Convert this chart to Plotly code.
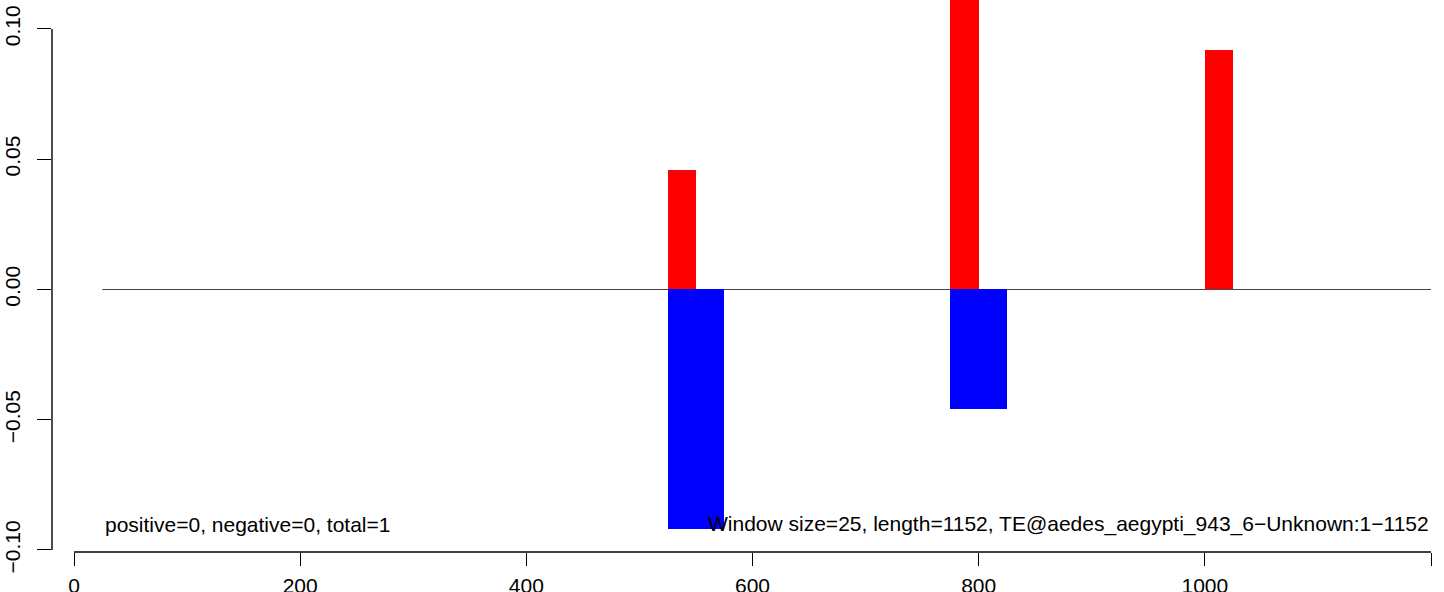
import plotly.graph_objects as go

# ---- data ----
WINDOW = 25
red_starts = [525, 775, 1000]
red_values = [0.046, 0.138, 0.092]
blue_starts = [525, 550, 775, 800]
blue_values = [-0.092, -0.092, -0.046, -0.046]
zero_line_x = [25, 1200]
x_ticks = [0, 200, 400, 600, 800, 1000, 1200]
y_ticks = [-0.10, -0.05, 0.00, 0.05, 0.10]
y_tick_labels = ["\u22120.10", "\u22120.05", "0.00", "0.05", "0.10"]
left_text = "positive=0, negative=0, total=1"
right_text = "Window size=25, length=1152, TE@aedes_aegypti_943_6\u2212Unknown:1\u22121152"

FONT = "Liberation Sans, Arial, Helvetica, sans-serif"
FS = 21

fig = go.Figure()
fig.add_trace(go.Bar(
    x=[s + WINDOW / 2 for s in red_starts], y=red_values, width=WINDOW,
    marker=dict(color="#ff0000", line=dict(width=0)), showlegend=False))
fig.add_trace(go.Bar(
    x=[s + WINDOW / 2 for s in blue_starts], y=blue_values, width=WINDOW,
    marker=dict(color="#0000ff", line=dict(width=0)), showlegend=False))

# zero reference line (below bars)
fig.add_shape(type="line", xref="x", yref="y", x0=zero_line_x[0], x1=zero_line_x[1],
              y0=0, y1=0, line=dict(color="#444444", width=1), layer="below")
# axis lines spanning first to last tick (R style)
fig.add_shape(type="line", xref="paper", yref="y", x0=0, x1=0,
              y0=y_ticks[0], y1=y_ticks[-1], line=dict(color="black", width=1.4))
fig.add_shape(type="line", xref="x", yref="paper", x0=x_ticks[0], x1=x_ticks[-1],
              y0=0, y1=0, line=dict(color="black", width=1.4))

fig.add_annotation(x=zero_line_x[0] + 1, y=-0.0901, text=left_text, showarrow=False,
                   xanchor="left", yanchor="middle", font=dict(family=FONT, size=FS, color="black"))
fig.add_annotation(x=x_ticks[-1], y=-0.0901, text=right_text, showarrow=False,
                   xanchor="right", yanchor="middle", font=dict(family=FONT, size=FS, color="black"))

fig.update_layout(
    width=1444, height=592,
    margin=dict(l=52, r=0, t=0, b=40, pad=0, autoexpand=False),
    paper_bgcolor="white", plot_bgcolor="white",
    barmode="overlay", bargap=0,
    font=dict(family=FONT, size=FS, color="black"),
    xaxis=dict(range=[-19.46, 1211.5], tickmode="array", tickvals=x_ticks,
               ticktext=[str(v) for v in x_ticks], automargin=False,
               ticks="outside", ticklen=13, tickwidth=1.4, tickcolor="black",
               ticklabelstandoff=2,
               showgrid=False, zeroline=False, showline=False,
               tickfont=dict(family=FONT, size=FS, color="black")),
    yaxis=dict(range=[-0.10077, 0.11113], tickmode="array", tickvals=y_ticks,
               ticktext=y_tick_labels, tickangle=-90, automargin=False,
               ticks="outside", ticklen=14, tickwidth=1.4, tickcolor="black",
               ticklabelstandoff=9,
               showgrid=False, zeroline=False, showline=False,
               tickfont=dict(family=FONT, size=FS, color="black")),
)

fig.write_html("out.html", config={"displayModeBar": False},
               post_script="document.body.style.margin='0';document.body.style.overflow='hidden';")
